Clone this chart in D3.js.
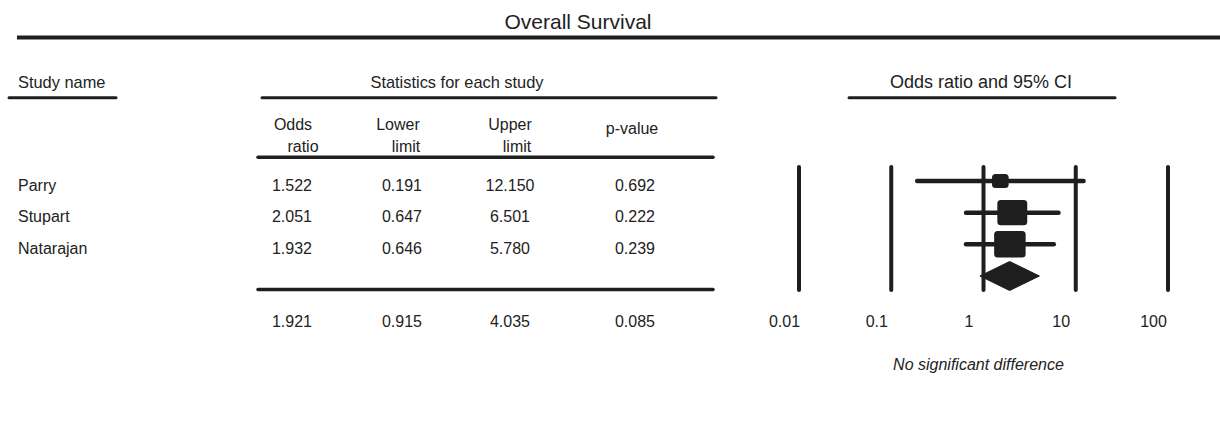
<!DOCTYPE html>
<html>
<head>
<meta charset="utf-8">
<script src="https://cdn.jsdelivr.net/npm/d3@7"></script>
<style>
  html, body { margin: 0; padding: 0; background: #fff; }
  svg { display: block; font-family: "Liberation Sans", Arial, Helvetica, sans-serif; }
  text { fill: #222; }
</style>
</head>
<body>
<svg id="chart" width="1220" height="423"></svg>
<script>
// Study-level results
const studies = ["Parry", "Stupart", "Natarajan"];
const oddsRatio = [1.522, 2.051, 1.932];
const lowerLimit = [0.191, 0.647, 0.646];
const upperLimit = [12.150, 6.501, 5.780];
const pValue = [0.692, 0.222, 0.239];

// Pooled (fixed effect) result: odds ratio, lower, upper, p
const pooledStats = [1.921, 0.915, 4.035, 0.085];

// Log axis ticks
const axisTicks = [0.01, 0.1, 1, 10, 100];
const tickLabels = ["0.01", "0.1", "1", "10", "100"];

const ink = "#1e1e1e";
const fmt = d3.format(".3f");
const svg = d3.select("#chart");

// ---------- header ----------
svg.append("text").attr("x", 578).attr("y", 29)
  .attr("text-anchor", "middle").style("font-size", "21px").text("Overall Survival");
svg.append("line").attr("x1", 17).attr("x2", 1220).attr("y1", 37.5).attr("y2", 37.5)
  .attr("stroke", ink).attr("stroke-width", 4);

const sections = [
  { label: "Study name", x: 18, anchor: "start", x1: 9, x2: 116, size: 16.4 },
  { label: "Statistics for each study", x: 457, anchor: "middle", x1: 262, x2: 716, size: 16.4 },
  { label: "Odds ratio and 95% CI", x: 981, anchor: "middle", x1: 849, x2: 1115, size: 18 }
];
sections.forEach(s => {
  svg.append("text").attr("x", s.x).attr("y", 88).attr("text-anchor", s.anchor)
    .style("font-size", s.size + "px").text(s.label);
  svg.append("line").attr("x1", s.x1).attr("x2", s.x2).attr("y1", 97.7).attr("y2", 97.7)
    .attr("stroke", ink).attr("stroke-width", 3).attr("stroke-linecap", "round");
});

// column headings
const colX = [292, 402, 510, 635];
const colHead = [
  { t1: "Odds", x1: 293, t2: "ratio", x2: 303 },
  { t1: "Lower", x1: 398, t2: "limit", x2: 406 },
  { t1: "Upper", x1: 510, t2: "limit", x2: 517 }
];
colHead.forEach(h => {
  svg.append("text").attr("x", h.x1).attr("y", 130).attr("text-anchor", "middle")
    .style("font-size", "16px").text(h.t1);
  svg.append("text").attr("x", h.x2).attr("y", 151.5).attr("text-anchor", "middle")
    .style("font-size", "16px").text(h.t2);
});
svg.append("text").attr("x", 632).attr("y", 134).attr("text-anchor", "middle")
  .style("font-size", "16px").text("p-value");

svg.append("line").attr("x1", 258).attr("x2", 713).attr("y1", 157.3).attr("y2", 157.3)
  .attr("stroke", ink).attr("stroke-width", 3.5).attr("stroke-linecap", "round");
svg.append("line").attr("x1", 258).attr("x2", 713).attr("y1", 289.5).attr("y2", 289.5)
  .attr("stroke", ink).attr("stroke-width", 3.5).attr("stroke-linecap", "round");

// ---------- scales ----------
const x = d3.scaleLog().domain([0.01, 100]).range([799, 1168]);
const y = d3.scalePoint().domain([...studies, "pooled"]).range([181, 276]);

// ---------- table rows ----------
const rows = studies.map((s, i) => ({
  name: s, or: oddsRatio[i], lo: lowerLimit[i], hi: upperLimit[i], p: pValue[i]
}));

const rowG = svg.append("g").selectAll("g").data(rows).join("g")
  .attr("transform", d => `translate(0,${y(d.name) + 9.5})`)
  .style("font-size", "16px");
rowG.append("text").attr("x", 18).text(d => d.name);
rowG.append("text").attr("x", colX[0]).attr("text-anchor", "middle").text(d => fmt(d.or));
rowG.append("text").attr("x", colX[1]).attr("text-anchor", "middle").text(d => fmt(d.lo));
rowG.append("text").attr("x", colX[2]).attr("text-anchor", "middle").text(d => fmt(d.hi));
rowG.append("text").attr("x", colX[3]).attr("text-anchor", "middle").text(d => fmt(d.p));

svg.append("g").style("font-size", "16px").selectAll("text").data(pooledStats).join("text")
  .attr("x", (d, i) => colX[i]).attr("y", 327).attr("text-anchor", "middle")
  .text(d => fmt(d));

// ---------- forest plot ----------
// reference lines at each decade
svg.append("g").selectAll("line").data(axisTicks).join("line")
  .attr("x1", d => x(d)).attr("x2", d => x(d))
  .attr("y1", 167).attr("y2", 290)
  .attr("stroke", ink).attr("stroke-width", 4).attr("stroke-linecap", "round");

// confidence intervals
svg.append("g").selectAll("line").data(rows).join("line")
  .attr("x1", d => x(d.lo)).attr("x2", d => x(d.hi))
  .attr("y1", d => y(d.name)).attr("y2", d => y(d.name))
  .attr("stroke", ink).attr("stroke-width", 4.5).attr("stroke-linecap", "round");

// inverse-variance weights set the box sizes
rows.forEach(d => {
  const se = (Math.log(d.hi) - Math.log(d.lo)) / (2 * 1.96);
  d.w = 1 / (se * se);
});
const boxW = d3.scaleSqrt().domain([0, d3.max(rows, d => d.w)]).range([0, 31.5]);

svg.append("g").selectAll("rect").data(rows).join("rect")
  .attr("x", d => x(d.or) - boxW(d.w) / 2)
  .attr("y", d => y(d.name) - boxW(d.w) * 0.42)
  .attr("width", d => boxW(d.w))
  .attr("height", d => boxW(d.w) * 0.84)
  .attr("rx", 3.5).attr("ry", 3.5)
  .attr("fill", ink);

// pooled diamond
const yp = y("pooled");
svg.append("path")
  .attr("d", d3.line()([
    [x(pooledStats[1]), yp],
    [x(pooledStats[0]), yp - 14.5],
    [x(pooledStats[2]), yp],
    [x(pooledStats[0]), yp + 14.5]
  ]) + "Z")
  .attr("fill", ink).attr("stroke", ink).attr("stroke-width", 1).attr("stroke-linejoin", "round");

// axis labels
const axis = d3.axisBottom(x).tickValues(axisTicks)
  .tickFormat((d, i) => tickLabels[i]).tickSize(0).tickPadding(0);
const axG = svg.append("g").attr("transform", "translate(0,315)").call(axis);
axG.select(".domain").remove();
axG.selectAll("text").attr("dx", -15).attr("dy", 0).attr("y", 12)
  .style("font-size", "16px").style("font-family", "\"Liberation Sans\", Arial, sans-serif")
  .attr("fill", "#222");

svg.append("text").attr("x", 978.5).attr("y", 370).attr("text-anchor", "middle")
  .style("font-size", "16px").style("font-style", "italic").text("No significant difference");
</script>
</body>
</html>
